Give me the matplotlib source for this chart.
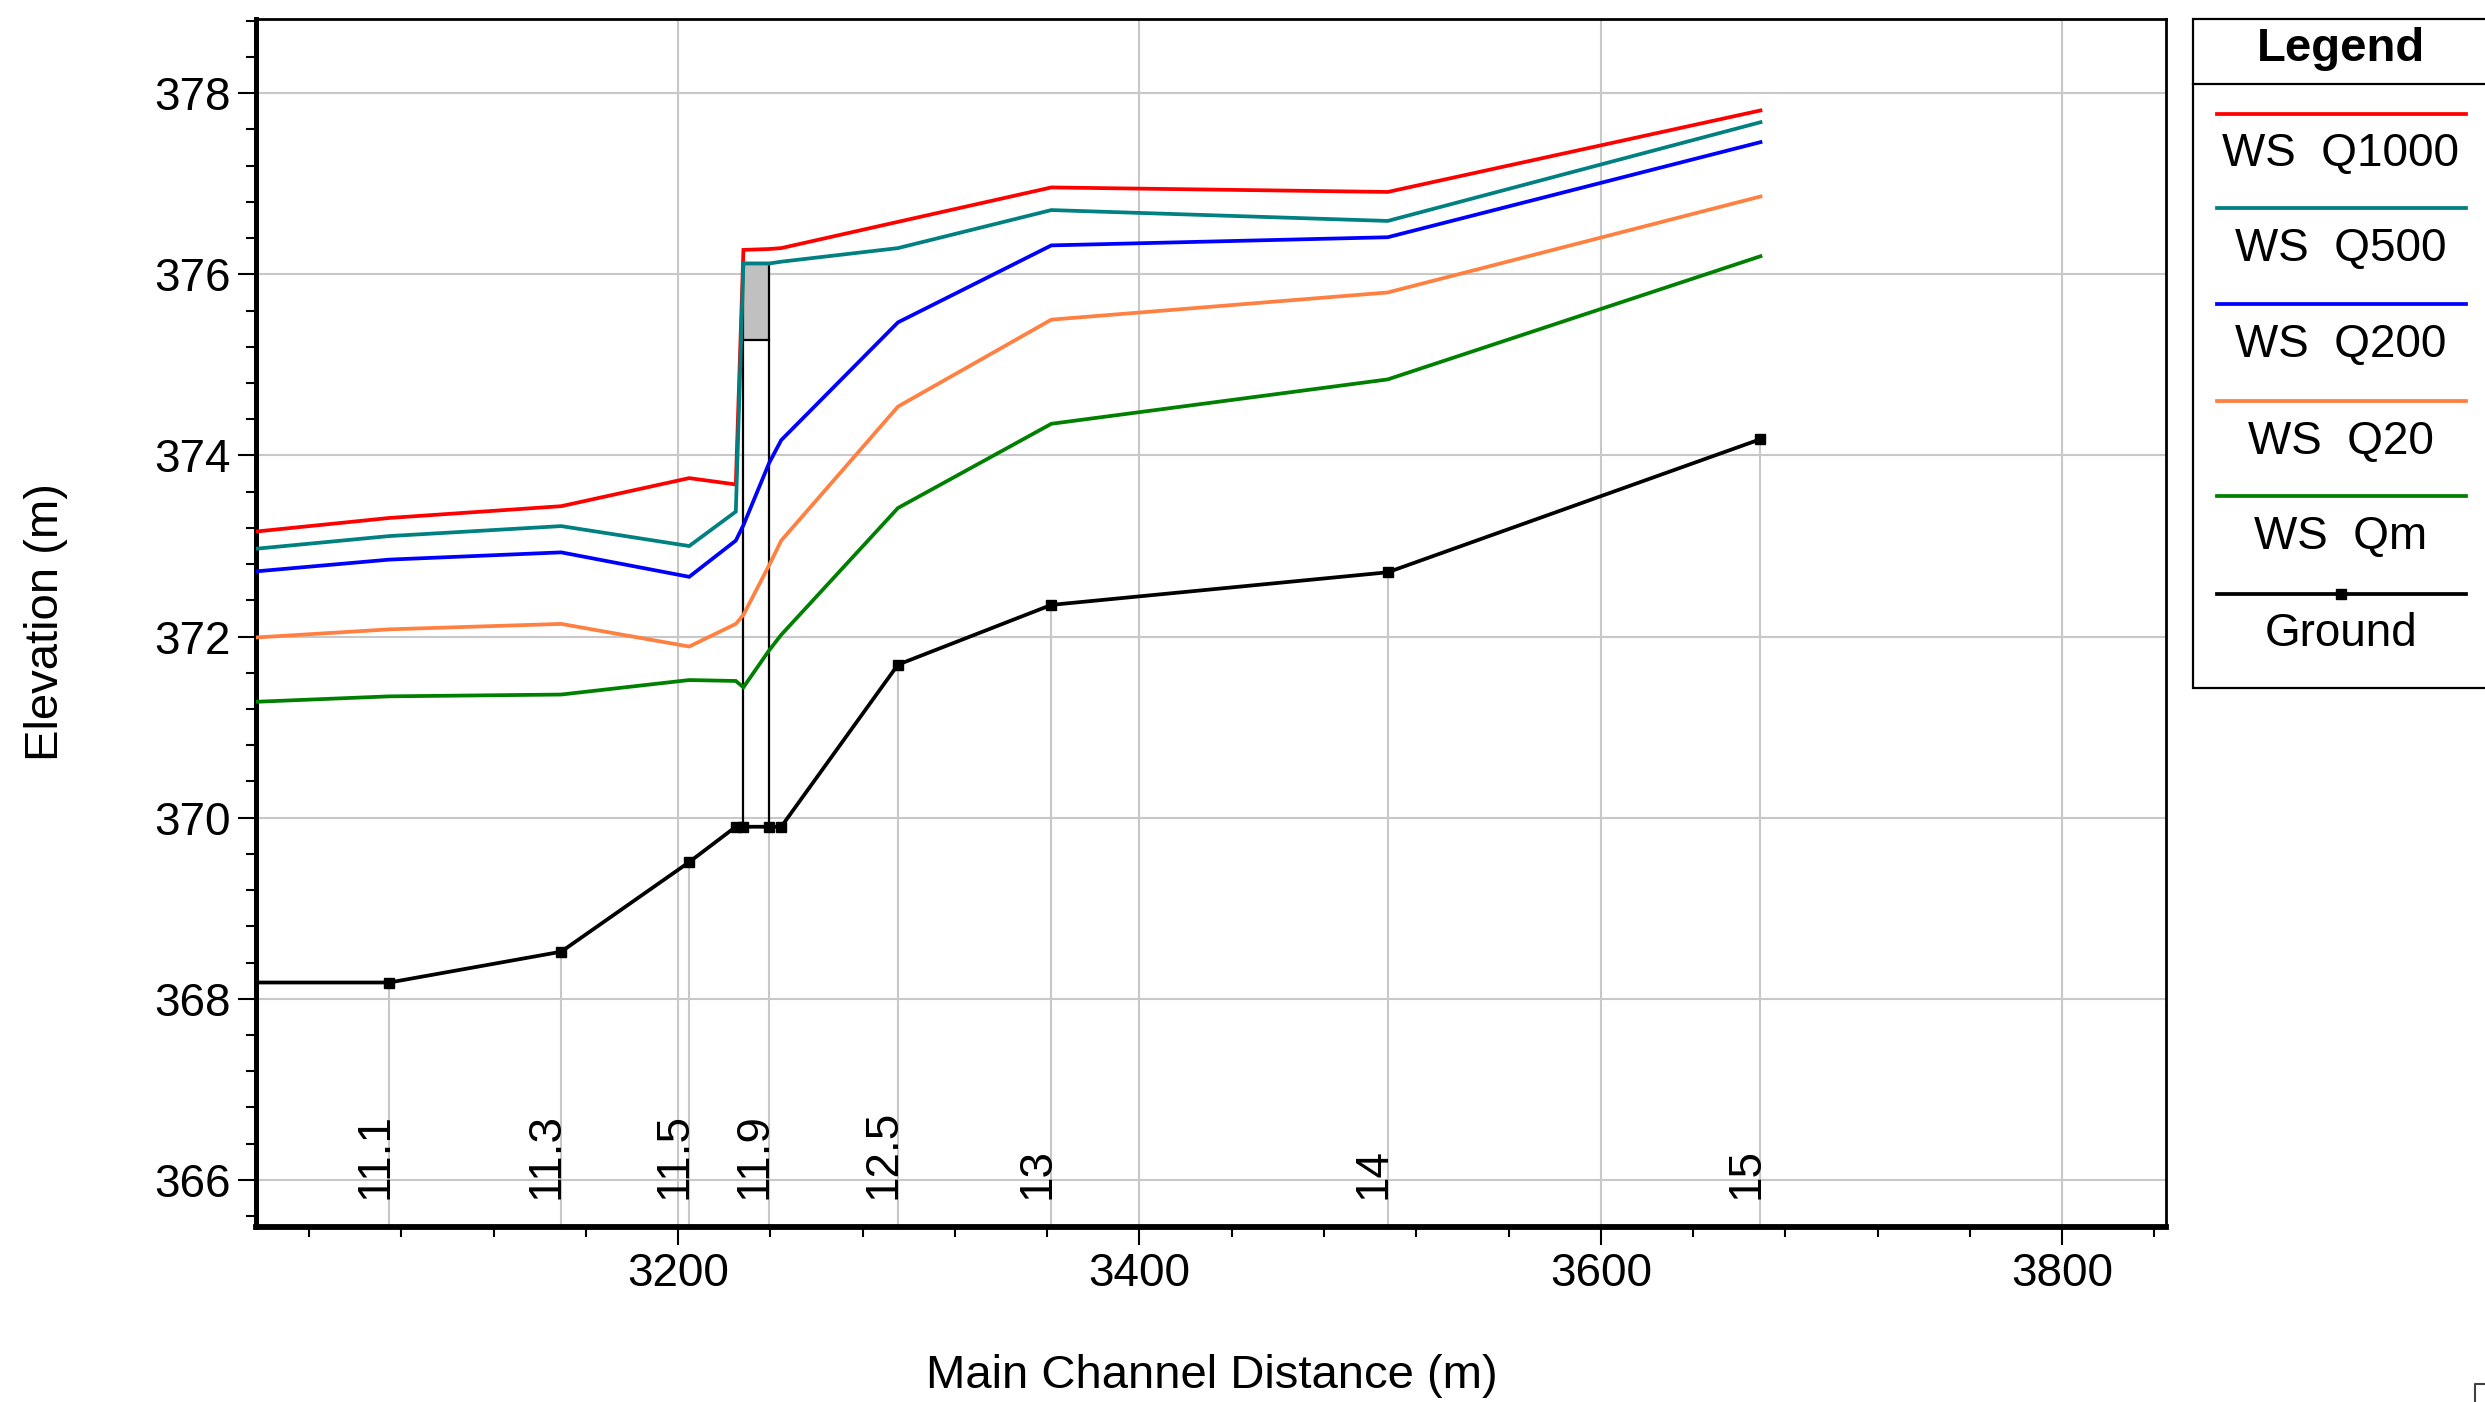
import matplotlib
matplotlib.use("Agg")
import matplotlib.pyplot as plt
from matplotlib.ticker import MultipleLocator
from matplotlib.patches import Rectangle

plt.rcParams['font.family'] = ['Liberation Sans', 'DejaVu Sans']

# ---------------- data ----------------
stations = [3017.0, 3074.8, 3149.3, 3204.8, 3225.0, 3228.3, 3239.5, 3244.7,
            3295.3, 3361.8, 3507.6, 3669.2]
ground = [368.18, 368.18, 368.52, 369.51, 369.90, 369.90, 369.90, 369.90,
          371.69, 372.35, 372.71, 374.18]
ws_q1000 = [373.16, 373.31, 373.44, 373.75, 373.68, 376.27, 376.28, 376.29,
            376.58, 376.96, 376.91, 377.81]
ws_q500 = [372.97, 373.11, 373.22, 373.00, 373.38, 376.12, 376.12, 376.14,
           376.29, 376.71, 376.59, 377.68]
ws_q200 = [372.72, 372.85, 372.93, 372.66, 373.06, 373.23, 373.92, 374.17,
           375.47, 376.32, 376.41, 377.46]
ws_q20 = [371.99, 372.08, 372.14, 371.89, 372.14, 372.24, 372.79, 373.06,
          374.54, 375.50, 375.80, 376.86]
ws_qm = [371.28, 371.34, 371.36, 371.52, 371.51, 371.44, 371.85, 372.02,
         373.42, 374.35, 374.84, 376.20]

section_labels = ['11.1', '11.3', '11.5', '11.9', '12.5', '13', '14', '15']
section_pos = [3074.8, 3149.3, 3204.8, 3239.5, 3295.3, 3361.8, 3507.6, 3669.2]
section_ground = [368.18, 368.52, 369.51, 369.90, 371.69, 372.35, 372.71, 374.18]

bridge_x = [3228.3, 3239.5]
bridge_ground = 369.90
bridge_low_chord = 375.28
bridge_deck_top = 376.12

series_names = ['WS  Q1000', 'WS  Q500', 'WS  Q200', 'WS  Q20', 'WS  Qm']
series_vals = [ws_q1000, ws_q500, ws_q200, ws_q20, ws_qm]
series_colors = ['#ff0000', '#008080', '#0000ff', '#ff8040', '#008000']

# ---------------- figure ----------------
W, H = 2485, 1402
fig = plt.figure(figsize=(W / 100, H / 100), dpi=100)
ax = fig.add_axes([256 / W, 1 - 1227 / H, (2166 - 256) / W, (1227 - 19) / H])

ax.set_xlim(3017, 3845)
ax.set_ylim(365.48, 378.82)

grid_c = '#c8c8c8'
for yv in range(366, 379, 2):
    ax.axhline(yv, color=grid_c, lw=1.5, zorder=0)
for xv in range(3200, 3801, 200):
    ax.axvline(xv, color=grid_c, lw=1.5, zorder=0)
ax.vlines(section_pos, 365.48, section_ground, colors=grid_c, lw=1.5, zorder=0)

for lab, xp in zip(section_labels, section_pos):
    ax.text(xp - 1.0, 365.785, lab, rotation=90, rotation_mode='anchor',
            ha='left', va='baseline', fontsize=33, zorder=1)

# bridge
ax.fill_between(bridge_x, bridge_low_chord, bridge_deck_top, color='#c0c0c0',
                zorder=2, lw=0)
ax.plot(bridge_x, [bridge_low_chord] * 2, color='black', lw=1.6, zorder=2)
ax.plot(bridge_x, [bridge_deck_top] * 2, color='black', lw=1.6, zorder=2)
ax.vlines(bridge_x, bridge_ground, bridge_deck_top, colors='black', lw=1.6,
          zorder=2)

for vals, c in zip(series_vals, series_colors):
    ax.plot(stations, vals, color=c, lw=2.7, zorder=3, solid_joinstyle='miter')

ax.plot(stations, ground, color='black', lw=2.7, marker='s', markersize=7.5,
        markevery=list(range(1, len(stations))), zorder=4)

ax.xaxis.set_major_locator(MultipleLocator(200))
ax.xaxis.set_minor_locator(MultipleLocator(40))
ax.yaxis.set_major_locator(MultipleLocator(2))
ax.yaxis.set_minor_locator(MultipleLocator(0.4))
ax.tick_params(which='major', direction='out', length=13, width=1.5,
               labelsize=33)
ax.tick_params(which='minor', direction='out', length=7.5, width=1.5)
ax.tick_params(axis='x', which='major', pad=5)
ax.tick_params(axis='y', which='major', pad=5)
ax.xaxis.set_major_formatter(matplotlib.ticker.FuncFormatter(lambda v, p: f"{v:.0f}"))
ax.yaxis.set_major_formatter(matplotlib.ticker.FuncFormatter(lambda v, p: f"{v:.0f}"))

ax.spines['left'].set_linewidth(3.6)
ax.spines['bottom'].set_linewidth(4.2)
ax.spines['top'].set_linewidth(2.0)
ax.spines['right'].set_linewidth(2.0)

fig.text(46 / W, 1 - 622 / H, 'Elevation (m)', rotation=90, ha='center',
         va='center', fontsize=34)
fig.text(1212 / W, 1 - 1376 / H, 'Main Channel Distance (m)', ha='center',
         va='center', fontsize=34)

# ---------------- legend (pixel coordinates overlay) ----------------
lax = fig.add_axes([0, 0, 1, 1], zorder=10)
lax.set_xlim(0, W)
lax.set_ylim(H, 0)
lax.axis('off')
lax.patch.set_alpha(0)

lax.add_patch(Rectangle((2193, 19), 400, 669, fill=True, facecolor='white',
                        edgecolor='black', lw=1.6, clip_on=False))
lax.plot([2193, 2485], [84, 84], color='black', lw=1.6)
lax.text(2341, 49, 'Legend', ha='center', va='center', fontsize=34,
         fontweight='bold')

line_y = [114, 208, 304, 401, 496]
text_y = [154, 249, 345, 442, 537]
for name, c, ly, ty in zip(series_names, series_colors, line_y, text_y):
    lax.plot([2217, 2466], [ly, ly], color=c, lw=2.7)
    lax.text(2341, ty, name, ha='center', va='center', fontsize=33)
lax.plot([2217, 2466], [594, 594], color='black', lw=2.7)
lax.plot([2341], [594], marker='s', color='black', markersize=7)
lax.text(2341, 634, 'Ground', ha='center', va='center', fontsize=33)

lax.plot([2475, 2475, 2485], [1402, 1384, 1384], color='#404040', lw=1.5,
         clip_on=False)

fig.savefig('out.png', dpi=100)
